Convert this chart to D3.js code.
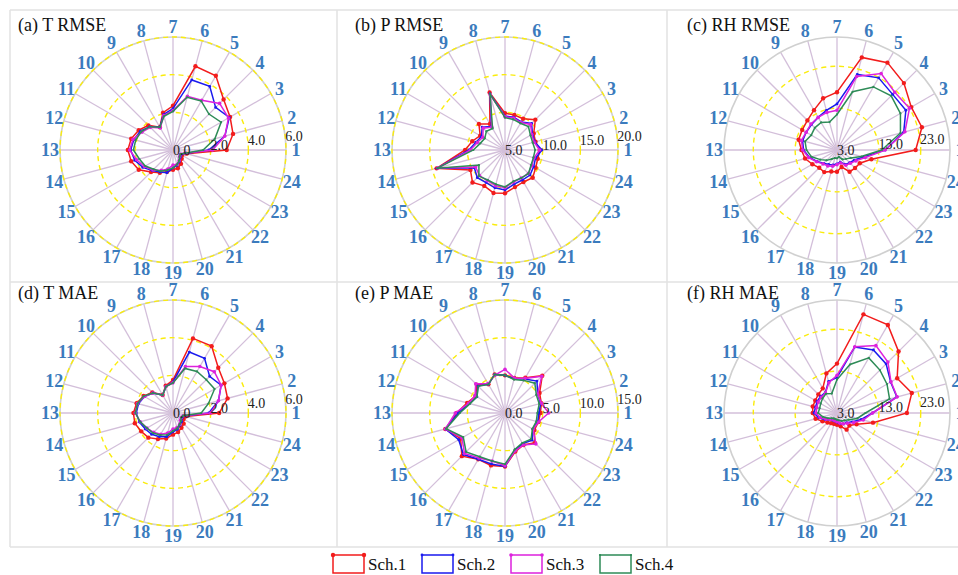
<!DOCTYPE html>
<html>
<head>
<meta charset="utf-8">
<script src="https://cdn.jsdelivr.net/npm/d3@7"></script>
<style>
  body { margin: 0; background: #fff; }
  svg { display: block; }
</style>
</head>
<body>
<div id="chart"></div>
<script>
// Hour labels round each radar
const hours = ['1','2','3','4','5','6','7','8','9','10','11','12',
  '13','14','15','16','17','18','19','20','21','22','23','24'];

const schemes = ['Sch.1', 'Sch.2', 'Sch.3', 'Sch.4'];
const schemeColors = ['#f21c1c', '#1a1aee', '#dd22dd', '#2e8b57'];
const markerSizes = [2.2, 1.4, 1.8, 1.1];

const panelTitles = ['(a) T RMSE', '(b) P RMSE', '(c) RH RMSE', '(d) T MAE', '(e) P MAE', '(f) RH MAE'];
const radialDomains = [[0, 6], [5, 20], [3, 30], [0, 6], [0, 15], [3, 30]];
const radialTicks = [[0, 2, 4, 6], [5, 10, 15, 20], [3, 13, 23], [0, 2, 4, 6], [0, 5, 10, 15], [3, 13, 23]];

// values per hour 1..24, one row per scheme (Sch.1 .. Sch.4)
const tRmse = [
  [2.85, 3.3, 3.5, 3.8, 4.55, 4.6, 2.35, 2.05, 1.4, 1.85, 2.1, 2.3, 2.4, 2.3, 2.1, 1.65, 1.4, 1.2, 1.05, 1.0, 0.85, 0.65, 0.55, 0.75],
  [1.9, 2.85, 3.45, 3.2, 3.9, 3.85, 2.2, 1.95, 1.4, 1.75, 2.0, 2.15, 2.25, 2.1, 1.85, 1.55, 1.35, 1.25, 0.95, 0.85, 0.7, 0.55, 0.5, 0.7],
  [2.1, 2.85, 3.4, 3.5, 3.05, 2.95, 2.1, 1.9, 1.35, 1.7, 1.9, 2.2, 2.3, 2.0, 1.75, 1.5, 1.25, 1.05, 0.8, 0.8, 0.65, 0.5, 0.45, 0.65],
  [1.6, 2.3, 2.95, 2.7, 3.0, 2.9, 2.05, 1.85, 1.4, 1.75, 1.95, 2.05, 2.1, 1.85, 1.7, 1.45, 1.3, 1.1, 0.95, 0.8, 0.65, 0.5, 0.45, 0.65]
];
const pRmse = [
  [9.6, 9.2, 9.4, 10.7, 9.8, 9.8, 9.9, 12.9, 9.0, 9.9, 8.8, 9.5, 10.3, 14.4, 10.3, 11.1, 10.5, 10.9, 10.75, 10.1, 9.9, 10.2, 9.7, 9.5],
  [9.9, 9.1, 9.2, 10.0, 9.3, 9.5, 9.5, 12.7, 8.6, 9.3, 8.6, 9.0, 9.8, 14.3, 9.7, 10.2, 10.0, 10.2, 10.3, 9.7, 9.6, 9.7, 9.4, 9.2],
  [9.6, 9.0, 9.1, 9.8, 9.2, 9.4, 9.4, 12.6, 8.5, 9.1, 8.4, 8.8, 9.6, 14.2, 9.5, 9.8, 9.7, 9.9, 10.0, 9.4, 9.3, 9.4, 9.1, 9.0],
  [9.0, 8.8, 8.9, 9.4, 9.1, 9.2, 9.3, 12.7, 8.3, 8.5, 8.1, 8.4, 9.2, 14.3, 9.0, 9.9, 9.6, 9.7, 9.9, 9.3, 9.3, 9.4, 9.0, 8.9]
];
const rhRmse = [
  [21.8, 24.0, 23.5, 25.6, 27.1, 25.9, 16.8, 15.8, 14.0, 13.0, 12.6, 12.5, 11.5, 10.9, 9.8, 9.0, 9.1, 8.3, 8.2, 7.2, 9.0, 9.1, 9.3, 11.5],
  [14.5, 19.5, 22.0, 21.8, 22.9, 21.7, 14.0, 12.8, 12.0, 11.6, 11.5, 11.5, 11.0, 9.8, 8.5, 7.5, 7.0, 6.7, 6.3, 6.0, 7.0, 7.3, 7.8, 9.5],
  [14.5, 19.8, 23.0, 22.5, 24.1, 21.2, 12.5, 12.3, 12.0, 11.8, 11.5, 11.8, 11.2, 10.0, 8.6, 7.7, 7.4, 7.0, 6.5, 6.2, 7.2, 7.5, 8.2, 10.0],
  [13.7, 18.7, 20.5, 21.3, 20.4, 17.4, 11.5, 9.9, 10.6, 10.5, 10.1, 10.9, 10.3, 9.3, 7.6, 6.5, 5.5, 5.0, 5.0, 4.7, 5.6, 6.0, 6.8, 9.0]
];
const tMae = [
  [2.45, 3.0, 3.15, 3.4, 4.1, 4.1, 1.75, 1.5, 1.1, 1.55, 1.8, 2.0, 2.1, 2.1, 1.95, 1.85, 1.6, 1.4, 1.15, 1.05, 0.9, 0.8, 0.65, 0.7],
  [1.9, 2.5, 2.95, 2.75, 3.35, 3.35, 1.65, 1.45, 1.1, 1.5, 1.75, 1.9, 1.95, 1.85, 1.7, 1.6, 1.45, 1.3, 1.0, 0.9, 0.75, 0.65, 0.55, 0.6],
  [2.0, 2.5, 2.95, 3.1, 2.85, 2.55, 1.6, 1.45, 1.1, 1.5, 1.75, 1.95, 2.0, 1.8, 1.6, 1.45, 1.3, 1.1, 0.85, 0.8, 0.7, 0.55, 0.5, 0.55],
  [1.5, 1.95, 2.55, 2.5, 2.55, 2.45, 1.6, 1.45, 1.1, 1.5, 1.8, 1.95, 2.0, 1.8, 1.6, 1.5, 1.35, 1.2, 0.95, 0.85, 0.7, 0.6, 0.5, 0.55]
];
const pMae = [
  [4.7, 5.0, 5.3, 7.0, 5.4, 4.8, 5.0, 5.3, 4.4, 5.3, 4.5, 5.2, 6.4, 8.2, 6.8, 8.1, 7.1, 7.2, 7.1, 5.3, 4.9, 5.6, 4.5, 4.6],
  [4.5, 4.9, 5.0, 6.0, 5.2, 4.7, 5.0, 5.3, 4.4, 5.1, 4.3, 4.9, 6.2, 8.2, 7.1, 7.8, 7.1, 7.0, 7.1, 5.1, 4.7, 5.1, 4.3, 4.5],
  [5.8, 5.0, 5.0, 6.9, 5.3, 4.8, 5.8, 5.2, 4.5, 5.5, 4.6, 5.0, 6.6, 8.2, 6.6, 7.6, 6.9, 6.6, 7.0, 5.2, 4.9, 5.8, 4.3, 4.6],
  [4.3, 4.7, 4.8, 5.6, 5.0, 4.6, 5.0, 5.3, 4.4, 5.0, 4.3, 4.8, 6.0, 8.1, 6.4, 7.3, 6.7, 6.6, 6.8, 5.0, 4.6, 4.9, 4.2, 4.3]
];
const rhMae = [
  [19.7, 21.5, 19.6, 23.8, 27.3, 27.4, 14.8, 12.8, 9.8, 9.3, 9.0, 9.0, 8.8, 8.3, 7.0, 6.2, 5.8, 5.7, 5.8, 6.3, 7.6, 7.2, 8.4, 11.9],
  [11.5, 17.8, 17.8, 19.6, 20.4, 19.3, 11.5, 10.8, 8.6, 8.6, 8.5, 8.3, 8.5, 7.5, 6.2, 5.3, 5.0, 5.0, 5.2, 5.6, 6.0, 6.3, 7.2, 9.0],
  [11.5, 17.9, 17.9, 20.2, 21.6, 19.4, 12.0, 10.5, 8.5, 8.3, 8.2, 8.0, 8.0, 7.2, 6.0, 5.2, 4.8, 4.9, 5.1, 5.5, 6.0, 6.5, 7.6, 9.5],
  [9.8, 16.0, 16.8, 17.5, 18.2, 15.0, 11.0, 7.8, 8.3, 7.9, 7.5, 7.3, 7.5, 6.5, 5.5, 4.8, 4.5, 4.5, 4.6, 4.8, 5.2, 5.5, 6.2, 8.0]
];

const panelData = [tRmse, pRmse, rhRmse, tMae, pMae, rhMae];

const width = 958, height = 575;
const serif = 'Liberation Serif';
const R = 113;           // outer circle radius
const labelR = 123;      // hour label radius
const tickAngle = 7 * Math.PI / 180;

const svg = d3.select('#chart').append('svg')
  .attr('width', width)
  .attr('height', height)
  .style('font-family', serif);

// panel frames
const frame = svg.append('g')
  .attr('stroke', '#e2e2e2')
  .attr('stroke-width', 1.5)
  .attr('fill', 'none');
[10, 337, 667].forEach((x) => frame.append('line').attr('x1', x).attr('x2', x).attr('y1', 10).attr('y2', 547));
[10, 282, 547].forEach((y) => frame.append('line').attr('x1', 10).attr('x2', width).attr('y1', y).attr('y2', y));

// angle for hour index i: hour 1 points east, going counter-clockwise
const angle = d3.scaleLinear().domain([0, hours.length]).range([0, 2 * Math.PI]);

panelTitles.forEach((title, p) => {
  const col = p % 3, row = Math.floor(p / 3);
  const cx = 173 + 332 * col;
  const cy = 150 + 263 * row;
  const r = d3.scaleLinear().domain(radialDomains[p]).range([0, R]);

  const g = svg.append('g').attr('transform', `translate(${cx},${cy})`);

  // spokes
  g.selectAll('.spoke')
    .data(hours)
    .join('line')
    .attr('class', 'spoke')
    .attr('x1', 0).attr('y1', 0)
    .attr('x2', (d, i) => R * Math.cos(angle(i)))
    .attr('y2', (d, i) => -R * Math.sin(angle(i)))
    .attr('stroke', '#d3bfda')
    .attr('stroke-width', 1.3);

  // outer circle
  g.append('circle')
    .attr('r', R)
    .attr('fill', 'none')
    .attr('stroke', '#d0d0d0')
    .attr('stroke-width', 1.6);

  // dashed grid rings at tick values
  g.selectAll('.ring')
    .data(radialTicks[p].filter((t) => r(t) > 0))
    .join('circle')
    .attr('class', 'ring')
    .attr('r', (d) => r(d))
    .attr('fill', 'none')
    .attr('stroke', '#faec0c')
    .attr('stroke-width', 1.4)
    .attr('stroke-dasharray', '5,4');

  // hour labels
  g.selectAll('.hour')
    .data(hours)
    .join('text')
    .attr('class', 'hour')
    .attr('x', (d, i) => labelR * Math.cos(angle(i)))
    .attr('y', (d, i) => -labelR * Math.sin(angle(i)))
    .attr('text-anchor', 'middle')
    .attr('dominant-baseline', 'central')
    .attr('font-weight', 'bold')
    .attr('font-size', 18)
    .attr('fill', '#3b7bbd')
    .text((d) => d);

  // series, drawn Sch.1 first so Sch.4 lies on top
  const line = d3.lineRadial()
    .angle((d, i) => Math.PI / 2 - angle(i))
    .radius((d) => r(d))
    .curve(d3.curveLinearClosed);

  panelData[p].forEach((vals, s) => {
    g.append('path')
      .datum(vals)
      .attr('d', line)
      .attr('fill', 'none')
      .attr('stroke', schemeColors[s])
      .attr('stroke-width', 1.5);
    g.selectAll(`.m${s}`)
      .data(vals)
      .join('circle')
      .attr('class', `m${s}`)
      .attr('cx', (d, i) => r(d) * Math.cos(angle(i)))
      .attr('cy', (d, i) => -r(d) * Math.sin(angle(i)))
      .attr('r', markerSizes[s])
      .attr('fill', schemeColors[s]);
  });

  // radial tick labels along a slightly raised ray
  g.selectAll('.tick')
    .data(radialTicks[p])
    .join('text')
    .attr('class', 'tick')
    .attr('x', (d) => r(d) * Math.cos(tickAngle))
    .attr('y', (d) => -r(d) * Math.sin(tickAngle))
    .attr('dominant-baseline', 'central')
    .attr('font-size', 14)
    .attr('fill', '#222')
    .text((d) => d.toFixed(1));

  // panel title
  svg.append('text')
    .attr('x', 18 + 337 * col - (col === 2 ? 5 : 0))
    .attr('y', 31 + 268 * row)
    .attr('font-size', 18)
    .attr('fill', '#111')
    .text(title);
});

// legend
const lx = d3.scalePoint().domain(schemes).range([333, 600]);
const legend = svg.append('g');
schemes.forEach((name, s) => {
  const x = lx(name);
  legend.append('rect')
    .attr('x', x).attr('y', 555)
    .attr('width', 31).attr('height', 18)
    .attr('fill', 'none')
    .attr('stroke', schemeColors[s])
    .attr('stroke-width', 1.5);
  [x, x + 31].forEach((mx) => legend.append('circle')
    .attr('cx', mx).attr('cy', 555)
    .attr('r', markerSizes[s])
    .attr('fill', schemeColors[s]));
  legend.append('text')
    .attr('x', x + 35).attr('y', 570)
    .attr('font-size', 17)
    .attr('fill', '#111')
    .text(name);
});
</script>
</body>
</html>
